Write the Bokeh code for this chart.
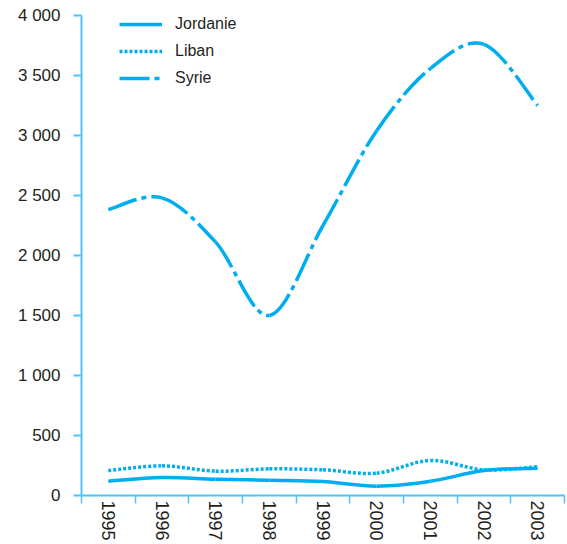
from bokeh.plotting import figure
from bokeh.models import Range1d, FixedTicker, Legend, LegendItem, ColumnDataSource
from bokeh.embed import file_html
from bokeh.resources import INLINE

years = [1995, 1996, 1997, 1998, 1999, 2000, 2001, 2002, 2003]
jordanie = [119, 150, 136, 127, 117, 78, 119, 208, 228]
liban = [208, 247, 203, 222, 214, 186, 292, 214, 240]
syrie = [2383, 2480, 2111, 1500, 2250, 3040, 3558, 3760, 3250]
y_ticks = [0, 500, 1000, 1500, 2000, 2500, 3000, 3500, 4000]
y_tick_labels = ["0", "500", "1 000", "1 500", "2 000", "2 500", "3 000", "3 500", "4 000"]

BLUE = "#00aeef"
AXIS = "#4fc3f1"
TEXT = "#231f20"
FONT = "Liberation Sans"

p = figure(width=567, height=544, output_backend="svg", toolbar_location=None,
           x_range=Range1d(years[0] - 0.5, years[-1] + 0.5), y_range=Range1d(0, 4000),
           min_border_left=81, min_border_right=3, min_border_top=15, min_border_bottom=49)
p.outline_line_color = None
p.grid.visible = False
p.background_fill_color = "white"


def bezier_source(xs, ys):
    n = len(xs)
    x0, y0, x1, y1, cx0, cy0, cx1, cy1 = [], [], [], [], [], [], [], []
    for i in range(n - 1):
        xm, ym = (xs[i - 1], ys[i - 1]) if i > 0 else (xs[i], ys[i])
        xp, yp = (xs[i + 2], ys[i + 2]) if i + 2 < n else (xs[i + 1], ys[i + 1])
        x0.append(xs[i]); y0.append(ys[i])
        x1.append(xs[i + 1]); y1.append(ys[i + 1])
        cx0.append(xs[i] + (xs[i + 1] - xm) / 6.0)
        cy0.append(ys[i] + (ys[i + 1] - ym) / 6.0)
        cx1.append(xs[i + 1] - (xp - xs[i]) / 6.0)
        cy1.append(ys[i + 1] - (yp - ys[i]) / 6.0)
    return ColumnDataSource(dict(x0=x0, y0=y0, x1=x1, y1=y1, cx0=cx0, cy0=cy0, cx1=cx1, cy1=cy1))


series = [("Jordanie", jordanie, "solid"), ("Liban", liban, "3 2"), ("Syrie", syrie, "30 5 5 5")]
items = []
for name, vals, dash in series:
    src = bezier_source(years, vals)
    r = p.bezier(x0="x0", y0="y0", x1="x1", y1="y1", cx0="cx0", cy0="cy0", cx1="cx1", cy1="cy1",
                 source=src, line_color=BLUE, line_width=3.5, line_dash=dash)
    items.append(LegendItem(label=name, renderers=[r], index=0))

legend = Legend(items=items, location=(38, 407), orientation="vertical",
                glyph_width=43, glyph_height=20, label_height=20, spacing=7,
                label_standoff=13, padding=0, margin=0,
                border_line_color=None, background_fill_alpha=0,
                label_text_font=FONT, label_text_font_size="16px", label_text_color=TEXT)
p.add_layout(legend)

xa = p.xaxis[0]
xa.ticker = FixedTicker(ticks=years, minor_ticks=[y - 0.5 for y in years] + [years[-1] + 0.5])
xa.major_tick_out = 0
xa.major_tick_in = 0
xa.minor_tick_out = 8
xa.minor_tick_in = 0
xa.minor_tick_line_color = AXIS
xa.minor_tick_line_width = 1.5
xa.axis_line_color = AXIS
xa.axis_line_width = 2
xa.major_label_orientation = "vertical"
xa.major_label_standoff = -3
xa.major_label_text_font = FONT
xa.major_label_text_font_size = "18px"
xa.major_label_text_color = TEXT

ya = p.yaxis[0]
ya.ticker = FixedTicker(ticks=y_ticks, minor_ticks=[])
ya.major_label_overrides = {t: l for t, l in zip(y_ticks, y_tick_labels)}
ya.major_tick_out = 8
ya.major_tick_in = 0
ya.major_tick_line_color = AXIS
ya.major_tick_line_width = 2
ya.minor_tick_out = 0
ya.axis_line_color = AXIS
ya.axis_line_width = 2
ya.major_label_standoff = 13
ya.major_label_text_font = FONT
ya.major_label_text_font_size = "17px"
ya.major_label_text_color = TEXT

open("out.html", "w").write(file_html(p, INLINE))
